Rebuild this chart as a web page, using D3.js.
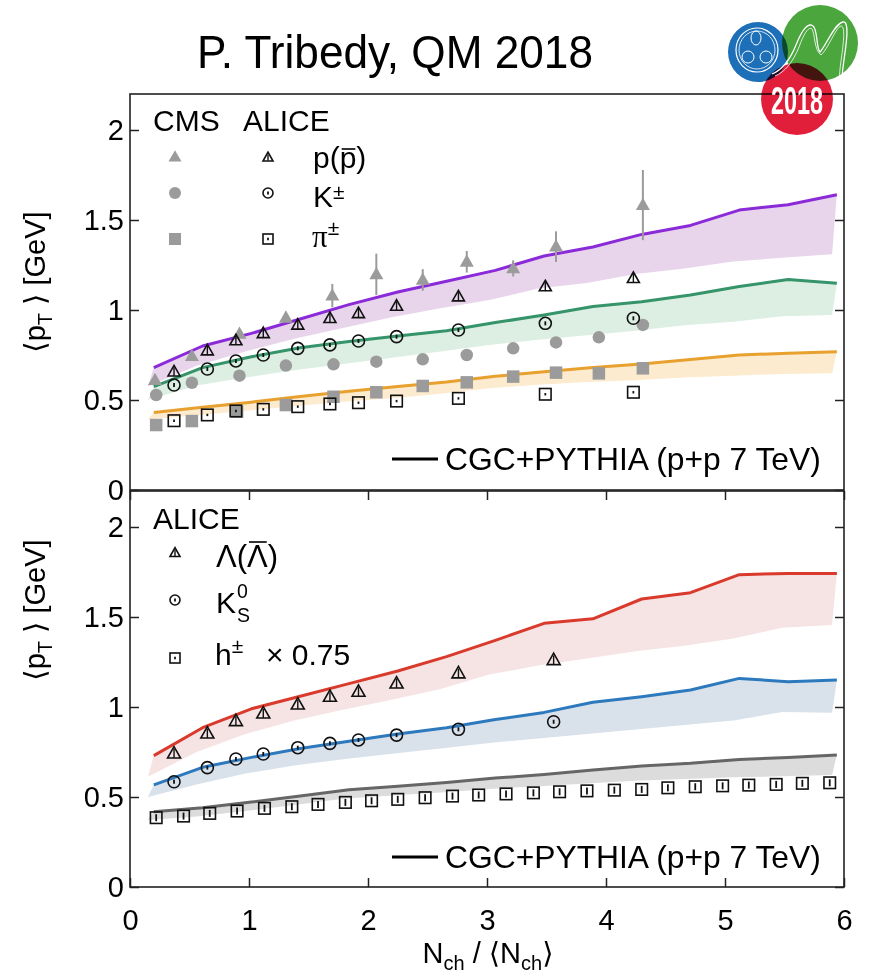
<!DOCTYPE html>
<html>
<head>
<meta charset="utf-8">
<script src="https://cdn.jsdelivr.net/npm/d3@7"></script>
<style>
  html, body { margin: 0; padding: 0; background: #fff; }
  svg { display: block; }
  text { font-family: "Liberation Sans", Arial, Helvetica, sans-serif; fill: #000; }
</style>
</head>
<body>
<svg id="chart" width="869" height="978"></svg>
<script>
// ---------- model curves (CGC+PYTHIA, p+p 7 TeV) ----------
const modelX = [0.2, 0.61, 1.02, 1.43, 1.84, 2.25, 2.66, 3.07, 3.48, 3.89, 4.30, 4.71, 5.12, 5.53, 5.94];
const bandX  = [0.15, 0.56, 0.97, 1.38, 1.79, 2.2, 2.61, 3.02, 3.43, 3.84, 4.25, 4.66, 5.07, 5.48, 5.9];

const protonHi = [0.68, 0.80, 0.87, 0.95, 1.03, 1.10, 1.16, 1.22, 1.30, 1.35, 1.42, 1.47, 1.555, 1.585, 1.64];
const protonLo = [0.575, 0.69, 0.77, 0.84, 0.90, 0.96, 1.01, 1.055, 1.12, 1.15, 1.20, 1.23, 1.27, 1.29, 1.31];
const kaonHi   = [0.574, 0.68, 0.74, 0.79, 0.825, 0.855, 0.885, 0.93, 0.972, 1.02, 1.046, 1.083, 1.13, 1.17, 1.148];
const kaonLo   = [0.50, 0.58, 0.625, 0.665, 0.70, 0.735, 0.77, 0.805, 0.835, 0.86, 0.885, 0.915, 0.935, 0.965, 0.972];
const pionHi   = [0.43, 0.46, 0.488, 0.52, 0.548, 0.575, 0.60, 0.632, 0.657, 0.68, 0.70, 0.725, 0.75, 0.76, 0.768];
const pionLo   = [0.393, 0.415, 0.44, 0.465, 0.49, 0.51, 0.535, 0.565, 0.585, 0.60, 0.61, 0.625, 0.635, 0.645, 0.648];

const lambdaHi = [0.73, 0.885, 0.99, 1.06, 1.13, 1.20, 1.28, 1.37, 1.465, 1.49, 1.60, 1.635, 1.735, 1.742, 1.742];
const lambdaLo = [0.612, 0.75, 0.85, 0.925, 0.985, 1.04, 1.10, 1.18, 1.23, 1.27, 1.31, 1.34, 1.38, 1.44, 1.455];
const k0sHi    = [0.567, 0.665, 0.72, 0.77, 0.81, 0.85, 0.885, 0.93, 0.97, 1.026, 1.057, 1.094, 1.159, 1.14, 1.15];
const k0sLo    = [0.50, 0.57, 0.63, 0.675, 0.71, 0.74, 0.77, 0.80, 0.825, 0.85, 0.875, 0.90, 0.925, 0.972, 0.968];
const hadHi    = [0.418, 0.44, 0.472, 0.505, 0.54, 0.56, 0.58, 0.605, 0.625, 0.65, 0.672, 0.687, 0.709, 0.72, 0.733];
const hadLo    = [0.372, 0.392, 0.422, 0.455, 0.49, 0.508, 0.525, 0.545, 0.56, 0.575, 0.59, 0.60, 0.61, 0.615, 0.622];

// ---------- CMS data (top panel, filled grey) ----------
const cmsX     = [0.21, 0.52, 0.92, 1.31, 1.70, 2.07, 2.46, 2.83, 3.22, 3.58, 4.31];
const cmsP     = [0.611, 0.744, 0.867, 0.957, 1.08, 1.198, 1.167, 1.268, 1.231, 1.352, 1.583];
const cmsPErr  = [0.01, 0.01, 0.015, 0.02, 0.065, 0.115, 0.06, 0.06, 0.045, 0.085, 0.195];
const cmsK     = [0.528, 0.596, 0.635, 0.691, 0.698, 0.713, 0.726, 0.75, 0.787, 0.82, 0.848, 0.917];
const cmsKX    = [0.22, 0.52, 0.92, 1.31, 1.71, 2.07, 2.46, 2.83, 3.22, 3.58, 3.94, 4.31];
const cmsPi    = [0.361, 0.383, 0.435, 0.472, 0.518, 0.543, 0.578, 0.598, 0.63, 0.652, 0.648, 0.676];
const cmsPiX   = [0.22, 0.52, 0.90, 1.31, 1.71, 2.07, 2.46, 2.83, 3.22, 3.58, 3.94, 4.31];

// ---------- ALICE data (top panel, open black) ----------
const aliceX   = [0.37, 0.65, 0.89, 1.12, 1.41, 1.68, 1.92, 2.24, 2.76, 3.49, 4.23];
const aliceP   = [0.657, 0.774, 0.83, 0.87, 0.917, 0.954, 0.981, 1.022, 1.074, 1.13, 1.176];
const aliceK   = [0.583, 0.672, 0.717, 0.75, 0.787, 0.806, 0.828, 0.852, 0.889, 0.926, 0.954];
const alicePi  = [0.385, 0.417, 0.439, 0.448, 0.463, 0.478, 0.485, 0.494, 0.509, 0.532, 0.543];

// ---------- ALICE data (bottom panel) ----------
const strangeX = [0.37, 0.65, 0.89, 1.12, 1.41, 1.68, 1.92, 2.24, 2.76, 3.56];
const lambdaV  = [0.742, 0.853, 0.922, 0.964, 1.014, 1.057, 1.085, 1.131, 1.187, 1.261];
const k0sV     = [0.585, 0.663, 0.711, 0.739, 0.774, 0.798, 0.817, 0.844, 0.876, 0.918];
const hadX     = [0.22, 0.45, 0.67, 0.90, 1.13, 1.36, 1.58, 1.81, 2.03, 2.25, 2.48, 2.71, 2.93,
                  3.16, 3.39, 3.61, 3.84, 4.07, 4.30, 4.52, 4.75, 4.98, 5.20, 5.43, 5.65, 5.88];
const hadV     = [0.385, 0.394, 0.409, 0.422, 0.437, 0.446, 0.459, 0.47, 0.479, 0.487, 0.496, 0.505, 0.511,
                  0.517, 0.523, 0.529, 0.534, 0.538, 0.542, 0.551, 0.557, 0.562, 0.566, 0.57, 0.576, 0.579];

// ---------- axes ----------
const xTicks = [0, 1, 2, 3, 4, 5, 6];
const yTicks = [0, 0.5, 1, 1.5, 2];

const svg = d3.select("#chart");
const L = 130, R = 844;
const topPanel = {top: 94, bottom: 490};
const botPanel = {top: 491, bottom: 887};

const x = d3.scaleLinear().domain([0, 6]).range([L, R]);
const yTop = d3.scaleLinear().domain([0, 2.2]).range([topPanel.bottom, topPanel.top]);
const yBot = d3.scaleLinear().domain([0, 2.2]).range([botPanel.bottom, botPanel.top]);

const GREY = "#9b9b9b";

// ---------- model bands and lines ----------
function drawModel(g, y, hi, lo, lineColor, fillColor) {
  const upper = modelX.map((d, i) => [d, hi[i]]);
  const lower = bandX.map((d, i) => [d, lo[i]]);
  const poly = upper.concat(lower.slice().reverse());
  g.append("path")
    .attr("d", d3.line().x(d => x(d[0])).y(d => y(d[1]))(poly) + "Z")
    .attr("fill", fillColor).attr("stroke", "none");
  g.append("path")
    .attr("d", d3.line().x(d => x(d[0])).y(d => y(d[1]))(upper))
    .attr("fill", "none").attr("stroke", lineColor).attr("stroke-width", 3)
    .attr("stroke-linejoin", "round");
}

const gTop = svg.append("g");
const gBot = svg.append("g");
drawModel(gTop, yTop, protonHi, protonLo, "#8b2ad8", "#e8d5ec");
drawModel(gTop, yTop, kaonHi, kaonLo, "#35946a", "#dcefe2");
drawModel(gTop, yTop, pionHi, pionLo, "#e8a12e", "#fcebcf");
drawModel(gBot, yBot, lambdaHi, lambdaLo, "#d93a2c", "#f6e4e4");
drawModel(gBot, yBot, k0sHi, k0sLo, "#2d79bd", "#d9e1ea");
drawModel(gBot, yBot, hadHi, hadLo, "#666666", "#dcdcdc");

// ---------- marker helpers ----------
function triPath(cx, cy, s) {
  const h = s * 0.88;
  return `M${cx},${cy - h * 0.6} L${cx + s / 2},${cy + h * 0.4} L${cx - s / 2},${cy + h * 0.4} Z`;
}
function filledTri(g, cx, cy, s) {
  g.append("path").attr("d", triPath(cx, cy, s)).attr("fill", GREY);
}
function filledCircle(g, cx, cy, s) {
  g.append("circle").attr("cx", cx).attr("cy", cy).attr("r", s / 2).attr("fill", GREY);
}
function filledSquare(g, cx, cy, s) {
  g.append("rect").attr("x", cx - s / 2).attr("y", cy - s / 2).attr("width", s).attr("height", s).attr("fill", GREY);
}
function openTri(g, cx, cy, s, bar) {
  g.append("path").attr("d", triPath(cx, cy, s)).attr("fill", "none").attr("stroke", "#111").attr("stroke-width", 1.6).attr("stroke-linejoin", "miter");
  g.append("line").attr("x1", cx).attr("x2", cx).attr("y1", cy - bar).attr("y2", cy + bar).attr("stroke", "#111").attr("stroke-width", 1.4);
}
function openCircle(g, cx, cy, s, bar) {
  g.append("circle").attr("cx", cx).attr("cy", cy).attr("r", s / 2).attr("fill", "none").attr("stroke", "#111").attr("stroke-width", 1.6);
  g.append("line").attr("x1", cx).attr("x2", cx).attr("y1", cy - bar).attr("y2", cy + bar).attr("stroke", "#111").attr("stroke-width", 1.8);
}
function openSquare(g, cx, cy, s, bar) {
  g.append("rect").attr("x", cx - s / 2).attr("y", cy - s / 2).attr("width", s).attr("height", s).attr("fill", "none").attr("stroke", "#111").attr("stroke-width", 1.6);
  g.append("line").attr("x1", cx).attr("x2", cx).attr("y1", cy - bar).attr("y2", cy + bar).attr("stroke", "#111").attr("stroke-width", 1.8);
}

// ---------- top panel data ----------
cmsX.forEach((d, i) => {
  gTop.append("line").attr("x1", x(d)).attr("x2", x(d))
    .attr("y1", yTop(cmsP[i] - cmsPErr[i])).attr("y2", yTop(cmsP[i] + cmsPErr[i]))
    .attr("stroke", GREY).attr("stroke-width", 2);
  filledTri(gTop, x(d), yTop(cmsP[i]), 14);
});
cmsKX.forEach((d, i) => filledCircle(gTop, x(d), yTop(cmsK[i]), 12.5));
cmsPiX.forEach((d, i) => filledSquare(gTop, x(d), yTop(cmsPi[i]), 12.5));
aliceX.forEach((d, i) => openTri(gTop, x(d), yTop(aliceP[i]), 12, 4.5));
aliceX.forEach((d, i) => openCircle(gTop, x(d), yTop(aliceK[i]), 12, 2));
aliceX.forEach((d, i) => openSquare(gTop, x(d), yTop(alicePi[i]), 11.5, 1.2));

// ---------- bottom panel data ----------
strangeX.forEach((d, i) => openTri(gBot, x(d), yBot(lambdaV[i]), 13, 4.5));
strangeX.forEach((d, i) => openCircle(gBot, x(d), yBot(k0sV[i]), 12, 2));
hadX.forEach((d, i) => openSquare(gBot, x(d), yBot(hadV[i]), 11.5, 3.5));

// ---------- frames and ticks ----------
function frame(p, y, showX) {
  const g = svg.append("g");
  const ax = (axis, tx, ty) => {
    const a = g.append("g").attr("transform", `translate(${tx},${ty})`).call(axis);
    a.select(".domain").remove();
    a.selectAll(".tick line").attr("stroke", "#222").attr("stroke-width", 1.5);
    a.selectAll("text").attr("font-family", "Liberation Sans, Arial, sans-serif").attr("font-size", 29).attr("fill", "#000");
    return a;
  };
  ax(d3.axisLeft(y).tickValues(yTicks).tickSize(-9).tickPadding(6).tickFormat(d3.format("")), L, 0);
  ax(d3.axisRight(y).tickValues(yTicks).tickSize(-9).tickFormat(""), R, 0);
  if (showX) {
    ax(d3.axisBottom(x).tickValues(xTicks).tickSize(-9).tickPadding(22).tickFormat(d3.format("d")), 0, p.bottom);
    ax(d3.axisTop(x).tickValues(xTicks).tickSize(-9).tickFormat(""), 0, p.top);
  }
  g.append("rect").attr("x", L).attr("y", p.top).attr("width", R - L).attr("height", p.bottom - p.top)
    .attr("fill", "none").attr("stroke", "#222").attr("stroke-width", 1.6);
}
frame(topPanel, yTop, false);
frame(botPanel, yBot, true);

// ---------- axis titles ----------
function yTitle(cy) {
  const t = svg.append("text").attr("transform", `translate(45,${cy}) rotate(-90)`)
    .attr("text-anchor", "middle").attr("font-size", 29);
  t.append("tspan").attr("font-family", "DejaVu Sans, sans-serif").text("\u27E8");
  t.append("tspan").text("p");
  t.append("tspan").attr("font-size", 20).attr("dy", 7).text("T");
  t.append("tspan").attr("dy", -7).text(" ");
  t.append("tspan").attr("font-family", "DejaVu Sans, sans-serif").text("\u27E9");
  t.append("tspan").text(" [GeV]");
}
yTitle(282);
yTitle(610);

const xt = svg.append("text").attr("x", 488).attr("y", 963).attr("text-anchor", "middle").attr("font-size", 29);
xt.append("tspan").text("N");
xt.append("tspan").attr("font-size", 20).attr("dy", 7).text("ch");
xt.append("tspan").attr("dy", -7).text(" / ");
xt.append("tspan").attr("font-family", "DejaVu Sans, sans-serif").text("\u27E8");
xt.append("tspan").text("N");
xt.append("tspan").attr("font-size", 20).attr("dy", 7).text("ch");
xt.append("tspan").attr("dy", -7).attr("font-family", "DejaVu Sans, sans-serif").text("\u27E9");

// ---------- legends ----------
const lg = svg.append("g");
lg.append("text").attr("x", 153).attr("y", 131).attr("font-size", 30).text("CMS");
lg.append("text").attr("x", 243).attr("y", 131).attr("font-size", 30).text("ALICE");
filledTri(lg, 175, 157, 13);
openTri(lg, 268, 157.5, 10, 3);
filledCircle(lg, 175, 193, 12);
openCircle(lg, 268, 193, 10, 1.5);
filledSquare(lg, 175, 239, 12);
openSquare(lg, 268, 239, 10, 1.2);

function overline(textSel, charIndex, rise) {
  const node = textSel.node();
  const a = node.getStartPositionOfChar(charIndex);
  const b = node.getEndPositionOfChar(charIndex);
  lg.append("line").attr("x1", a.x + 2).attr("x2", b.x - 1).attr("y1", a.y - rise).attr("y2", a.y - rise)
    .attr("stroke", "#000").attr("stroke-width", 1.6);
}
const pLbl = lg.append("text").attr("x", 313).attr("y", 168).attr("font-size", 30).text("p(p)");
overline(pLbl, 2, 19);
const kLbl = lg.append("text").attr("x", 313).attr("y", 207).attr("font-size", 30);
kLbl.append("tspan").text("K");
kLbl.append("tspan").attr("font-size", 21).attr("dy", -8).text("\u00B1");
const piLbl = lg.append("text").attr("x", 312).attr("y", 247).attr("font-size", 31);
piLbl.append("tspan").attr("font-family", "Liberation Serif, serif").text("\u03C0");
piLbl.append("tspan").attr("font-size", 21).attr("dy", -12).text("\u00B1");

lg.append("text").attr("x", 153).attr("y", 529).attr("font-size", 30).text("ALICE");
openTri(lg, 175, 553, 10, 3);
const lamLbl = lg.append("text").attr("x", 216).attr("y", 567).attr("font-size", 31)
  .attr("font-family", "Liberation Serif, serif").text("\u039B(\u039B)");
overline(lamLbl, 2, 25);
openCircle(lg, 175, 600, 10, 1.5);
// K with a stacked superscript 0 and subscript S
const k0Lbl = lg.append("text").attr("x", 216).attr("y", 613).attr("font-size", 30);
k0Lbl.append("tspan").text("K");
k0Lbl.append("tspan").attr("x", 237).attr("dy", -15).attr("font-size", 19.5).text("0");
k0Lbl.append("tspan").attr("x", 237).attr("dy", 23.5).attr("font-size", 19.5).text("S");
openSquare(lg, 175, 658, 10, 1.2);
const hLbl = lg.append("text").attr("x", 215).attr("y", 665).attr("font-size", 30);
hLbl.append("tspan").text("h");
hLbl.append("tspan").attr("font-size", 21).attr("dy", -12).text("\u00B1");
hLbl.append("tspan").attr("x", 266).attr("dy", 12).text("\u00D7 0.75");

[[459, 470], [857, 868]].forEach(([ly, ty]) => {
  lg.append("line").attr("x1", 392).attr("x2", 438).attr("y1", ly).attr("y2", ly).attr("stroke", "#000").attr("stroke-width", 3);
  lg.append("text").attr("x", 445).attr("y", ty).attr("font-size", 31.8).text("CGC+PYTHIA (p+p 7 TeV)");
});

// ---------- heading ----------
svg.append("text").attr("x", 197).attr("y", 68).attr("font-family", "Lato, 'Open Sans', sans-serif")
  .attr("font-size", 46).attr("textLength", 396).attr("lengthAdjust", "spacingAndGlyphs")
  .text("P. Tribedy, QM 2018");

// ---------- conference logo ----------
const logo = svg.append("g");
logo.append("circle").attr("cx", 820).attr("cy", 43).attr("r", 38).attr("fill", "#4ba63e");
logo.append("circle").attr("cx", 758).attr("cy", 52).attr("r", 30).attr("fill", "#1d6fb8").style("mix-blend-mode", "multiply");
logo.append("circle").attr("cx", 797).attr("cy", 99).attr("r", 36).attr("fill", "#e21f3b").style("mix-blend-mode", "multiply");
// white line art: ring with three lobes, and the script "M"
logo.append("ellipse").attr("cx", 757).attr("cy", 50).attr("rx", 21).attr("ry", 22).attr("fill", "none").attr("stroke", "#fff").attr("stroke-width", 1.2);
logo.append("ellipse").attr("cx", 757).attr("cy", 50).attr("rx", 18).attr("ry", 19).attr("fill", "none").attr("stroke", "#fff").attr("stroke-width", 0.8);
[[756, 38, 5, 7], [748, 57, 6, 6], [766, 57, 6, 6]].forEach(([cx, cy, rx, ry]) =>
  logo.append("ellipse").attr("cx", cx).attr("cy", cy).attr("rx", rx).attr("ry", ry).attr("fill", "none").attr("stroke", "#fff").attr("stroke-width", 1));
logo.append("path")
  .attr("d", "M772,74 C782,70 790,60 796,45 C802,30 808,22 813,26 C818,30 816,48 820,52 C826,46 834,24 843,22 C850,21 846,45 844,60 C842,75 840,84 846,90 L852,92")
  .attr("fill", "none").attr("stroke", "#fff").attr("stroke-width", 1.3);
logo.append("path")
  .attr("d", "M775,76 C785,72 793,62 799,47 C804,33 809,26 812,29 C815,34 814,50 821,55 C828,49 836,27 841,26 C846,26 843,46 841,61 C839,76 838,86 845,93")
  .attr("fill", "none").attr("stroke", "#fff").attr("stroke-width", 0.8);
logo.append("text").attr("x", 771).attr("y", 114).attr("font-family", "'Liberation Sans Narrow', Roboto, sans-serif")
  .attr("font-weight", "bold").attr("font-size", 38).attr("textLength", 52).attr("lengthAdjust", "spacingAndGlyphs")
  .style("fill", "#fff").text("2018");
</script>
</body>
</html>
